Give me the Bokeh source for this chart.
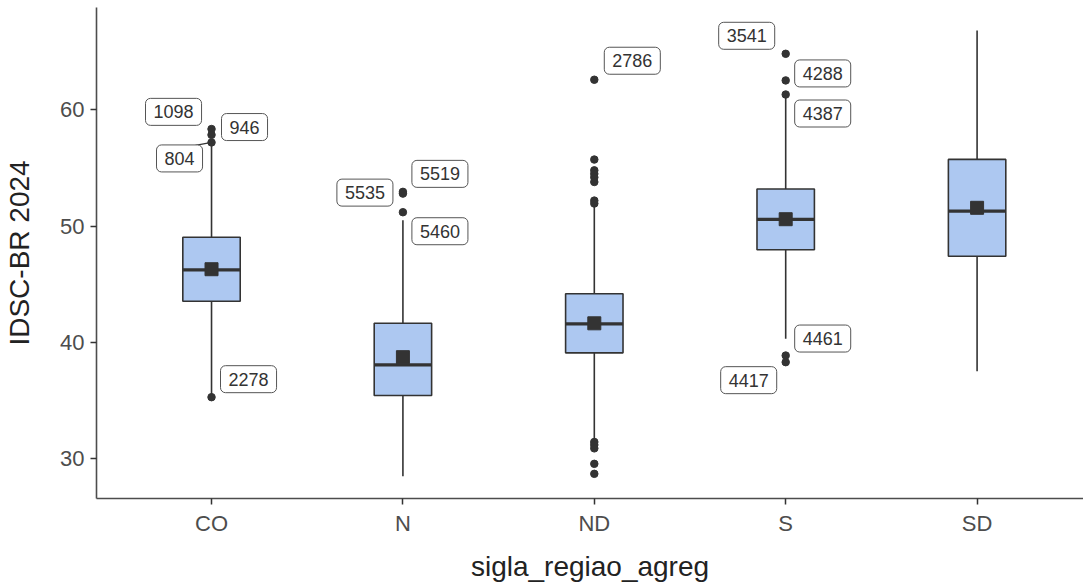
from bokeh.plotting import figure
from bokeh.models import Range1d, FixedTicker, ColumnDataSource
from bokeh.core.properties import value
from bokeh.embed import file_html
from bokeh.resources import INLINE

# ---------------- data ----------------
categories = ["CO", "N", "ND", "S", "SD"]
q1 = [43.55, 35.44, 39.11, 47.97, 47.42]
medians = [46.25, 38.08, 41.61, 50.58, 51.29]
q3 = [49.05, 41.66, 44.19, 53.20, 55.74]
whisker_low = [35.3, 28.5, 31.7, 40.32, 37.53]
whisker_high = [57.0, 50.5, 51.78, 61.24, 66.83]
means = [46.30, 38.74, 41.65, 50.60, 51.58]

outlier_cat = ["CO", "CO", "CO", "CO",
               "N", "N", "N",
               "ND", "ND", "ND", "ND", "ND", "ND", "ND", "ND",
               "ND", "ND", "ND", "ND", "ND",
               "S", "S", "S", "S", "S"]
outlier_val = [58.35, 57.85, 57.2, 35.3,
               52.95, 52.8, 51.2,
               62.59, 55.73, 54.8, 54.5, 54.2, 53.8, 52.2, 51.95,
               31.45, 31.2, 30.9, 29.57, 28.71,
               64.82, 62.53, 61.32, 38.88, 38.31]

label_cat = ["CO", "CO", "CO", "CO", "N", "N", "N", "ND", "S", "S", "S", "S", "S"]
label_val = [57.85, 58.35, 57.2, 35.3, 52.8, 52.95, 51.2, 62.59, 64.82, 62.53, 61.32, 38.88, 38.31]
label_id = ["1098", "946", "804", "2278", "5535", "5519", "5460", "2786",
            "3541", "4288", "4387", "4461", "4417"]

# ---------------- layout / style ----------------
label_dx = [-38, 33, -32, 37, -38, 37, 37, 38, -39, 37, 37, 37, -37]
label_dy = [-23, -2, 16, -18, -1, -18, 19, -19, -18, -7, 19, -17, 18]

W, H = 1083, 584
left, top, bottom = 96, 7, 86
x0, x1 = 0.399, 5.556
y0, y1 = 26.59, 68.80

FONT = "Liberation Sans"
BOX_FILL = "#ADC8F1"
DARK = "#333333"

pos = {c: i + 1 for i, c in enumerate(categories)}
xs = [pos[c] for c in categories]

p = figure(width=W, height=H, output_backend="svg", toolbar_location=None,
           x_range=Range1d(x0, x1), y_range=Range1d(y0, y1),
           min_border_left=left, min_border_top=top,
           min_border_bottom=bottom, min_border_right=0)
p.outline_line_color = None
p.xgrid.visible = False
p.ygrid.visible = False
p.background_fill_color = "white"
p.border_fill_color = "white"

# whiskers
p.segment(x0=xs, y0=q3, x1=xs, y1=whisker_high, line_color=DARK, line_width=1.6)
p.segment(x0=xs, y0=q1, x1=xs, y1=whisker_low, line_color=DARK, line_width=1.6)
# boxes
p.vbar(x=xs, width=0.3, bottom=q1, top=q3, fill_color=BOX_FILL,
       line_color=DARK, line_width=1.6)
# medians
p.segment(x0=[x - 0.15 for x in xs], y0=medians, x1=[x + 0.15 for x in xs], y1=medians,
          line_color=DARK, line_width=3.2)
# means
p.scatter(x=xs, y=means, marker="square", size=13, fill_color=DARK, line_color=DARK)
# outliers
p.scatter(x=[pos[c] for c in outlier_cat], y=outlier_val, size=7.5,
          fill_color=DARK, line_color=DARK)

# segment for label 804 (ggrepel leader)
sx = (W - left) / (x1 - x0)
sy = (H - top - bottom) / (y1 - y0)
i804 = label_id.index("804")
px, py = pos[label_cat[i804]], label_val[i804]
p.segment(x0=[px], y0=[py], x1=[px - 16 / sx], y1=[py - 3 / sy],
          line_color=DARK, line_width=1.3)

lab_src = ColumnDataSource(dict(
    x=[pos[c] for c in label_cat], y=label_val, text=label_id,
    dx=label_dx, dy=label_dy))
p.text(x="x", y="y", text="text", x_offset="dx", y_offset="dy", source=lab_src,
       text_font=value(FONT), text_font_size="18px", text_color=DARK,
       text_align="center", text_baseline="middle",
       background_fill_color="white", border_line_color="#555555",
       border_line_width=1, padding=dict(left=8, right=8, top=7, bottom=7),
       border_radius=5)

# axes
p.xaxis.ticker = FixedTicker(ticks=xs)
p.xaxis.major_label_overrides = {x: c for x, c in zip(xs, categories)}
p.yaxis.ticker = FixedTicker(ticks=[30, 40, 50, 60])
for ax in (p.xaxis[0], p.yaxis[0]):
    ax.axis_line_color = "#4d4d4d"
    ax.axis_line_width = 1.6
    ax.major_tick_line_color = "#333333"
    ax.major_tick_line_width = 1.5
    ax.major_tick_out = 6
    ax.major_tick_in = 0
    ax.minor_tick_line_color = None
    ax.major_label_text_font = FONT
    ax.major_label_text_font_size = "22px"
    ax.major_label_text_color = "#4d4d4d"
    ax.axis_label_text_font = FONT
    ax.axis_label_text_font_size = "28px"
    ax.axis_label_text_font_style = "normal"
    ax.axis_label_text_color = "#222222"

p.xaxis.axis_label = "sigla_regiao_agreg"
p.yaxis.axis_label = "IDSC-BR 2024"
p.xaxis.major_label_standoff = 6
p.xaxis.axis_label_standoff = 12
p.yaxis.major_label_standoff = 6
p.yaxis.axis_label_standoff = 22

open("out.html", "w").write(file_html(p, INLINE))
